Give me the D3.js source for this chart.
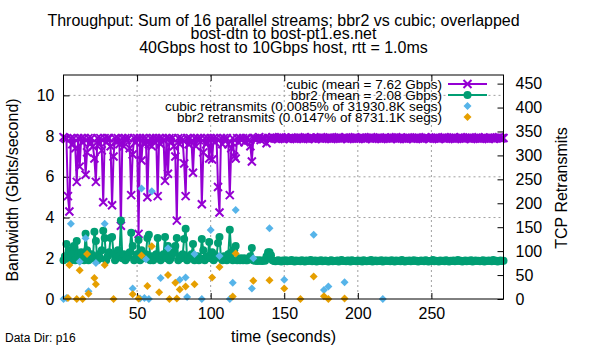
<!DOCTYPE html>
<html>
<head>
<meta charset="utf-8">
<script src="https://cdn.jsdelivr.net/npm/d3@7"></script>
<style>
  body { margin: 0; background: #fff; }
  svg { display: block; font-family: "Liberation Sans", Arial, sans-serif; }
</style>
</head>
<body>
<svg id="chart" width="600" height="350"></svg>
<script>
// throughput per second (Gbps), t = 0..299
const cubic = [
  7.95,7.9,7.85,5.05,4.3,7.9,7.6,7.9,7.4,5.75,7.9,6.5,7.9,7.7,7.9,6.1,7.2,7.9,7.6,7.9,
  7.5,6.9,5.75,7.9,7.6,7.9,7.3,4.75,7.9,7.7,7.9,7.9,7.5,4.6,7.0,7.9,7.7,7.9,7.6,3.6,
  7.9,7.5,7.9,7.8,7.9,7.4,5.1,7.1,7.9,7.7,7.9,3.2,7.9,6.8,7.9,7.6,7.9,5.0,7.6,7.9,
  7.5,7.9,7.7,7.9,5.05,7.9,7.6,7.9,7.8,5.8,7.9,6.15,7.9,7.7,7.9,7.5,7.0,3.85,7.9,7.6,
  7.9,7.8,6.65,5.05,7.9,7.6,7.9,7.7,6.2,7.9,7.5,7.9,7.8,7.9,4.65,7.2,7.9,7.6,7.9,6.9,
  7.9,6.85,7.9,7.7,7.9,5.5,4.25,7.9,7.6,7.9,7.8,7.9,7.6,5.1,7.4,7.9,7.0,6.9,7.9,7.7,
  7.9,7.8,7.9,7.7,7.9,7.9,7.8,7.5,6.75,7.9,7.9,7.85,7.9,7.95,7.8,7.9,7.85,7.9,7.65,7.9,
  7.9,7.85,7.95,7.9,7.88,7.92,7.86,7.9,7.94,7.87,7.9,7.92,7.88,7.9,7.85,7.93,7.9,7.87,7.91,7.9,
  7.88,7.92,7.9,7.86,7.94,7.9,7.87,7.91,7.93,7.88,7.9,7.85,7.92,7.9,7.89,7.94,7.87,7.9,7.91,7.88,
  7.9,7.93,7.86,7.9,7.92,7.88,7.9,7.95,7.87,7.9,7.91,7.89,7.93,7.86,7.9,7.92,7.88,7.9,7.94,7.87,
  7.9,7.91,7.88,7.93,7.9,7.86,7.92,7.9,7.89,7.94,7.87,7.9,7.91,7.88,7.9,7.93,7.86,7.9,7.92,7.88,
  7.91,7.9,7.87,7.93,7.89,7.9,7.94,7.86,7.9,7.92,7.88,7.91,7.9,7.85,7.93,7.9,7.88,7.92,7.87,7.9,
  7.93,7.88,7.9,7.91,7.86,7.9,7.94,7.89,7.9,7.87,7.92,7.9,7.88,7.93,7.9,7.86,7.91,7.9,7.89,7.94,
  7.87,7.9,7.92,7.88,7.9,7.93,7.86,7.9,7.91,7.88,7.94,7.9,7.87,7.92,7.9,7.89,7.93,7.86,7.9,7.91,
  7.88,7.9,7.94,7.87,7.9,7.92,7.88,7.91,7.9,7.86,7.93,7.9,7.88,7.92,7.89,7.9,7.94,7.87,7.9,7.91
];
const bbr2 = [
  1.9,2.1,2.7,2.0,2.4,1.9,2.2,2.6,1.9,2.85,2.2,1.9,2.3,2.0,1.9,3.2,2.4,1.9,2.1,2.2,
  2.0,3.3,2.85,1.9,2.2,2.0,2.4,3.35,3.0,1.9,2.1,2.3,3.0,3.05,2.2,1.9,2.0,2.4,2.1,3.85,
  2.0,2.2,1.9,2.0,2.1,2.3,3.25,2.6,1.9,2.0,2.2,2.9,1.9,2.4,2.0,2.1,2.2,3.0,3.15,1.9,
  2.1,1.9,2.0,2.2,3.0,2.0,1.9,2.1,2.2,3.05,2.0,2.6,1.9,2.0,2.2,2.3,2.6,3.0,1.9,2.1,
  2.0,2.2,2.95,3.45,1.9,2.1,2.0,2.2,2.7,1.9,2.0,2.1,1.9,2.0,2.95,2.4,1.9,2.0,2.1,2.8,
  2.0,2.3,1.9,2.0,2.1,2.75,3.05,2.0,1.9,2.1,2.0,1.9,2.2,3.4,2.3,1.9,2.4,2.6,1.9,2.0,
  1.9,2.0,1.9,2.0,1.9,1.9,2.0,2.1,2.5,1.9,1.88,1.9,1.86,1.9,1.88,1.87,1.9,1.88,2.1,2.3,
  2.3,2.15,1.9,1.87,1.85,1.88,1.9,1.86,1.84,1.89,1.87,1.9,1.85,1.88,1.86,1.91,1.87,1.84,1.89,1.86,
  1.88,1.85,1.9,1.87,1.84,1.89,1.86,1.88,1.92,1.85,1.87,1.89,1.84,1.88,1.86,1.9,1.85,1.87,1.89,1.86,
  1.84,1.88,1.9,1.85,1.87,1.86,1.89,1.84,1.88,1.91,1.86,1.87,1.85,1.89,1.88,1.84,1.9,1.86,1.87,1.85,
  1.89,1.86,1.88,1.84,1.9,1.87,1.85,1.88,1.86,1.92,1.84,1.87,1.89,1.85,1.88,1.86,1.9,1.84,1.87,1.89,
  1.86,1.88,1.85,1.9,1.87,1.84,1.89,1.86,1.88,1.85,1.91,1.87,1.84,1.88,1.86,1.89,1.85,1.87,1.9,1.86,
  1.88,1.84,1.87,1.89,1.86,1.85,1.9,1.88,1.84,1.87,1.86,1.92,1.85,1.88,1.87,1.84,1.89,1.86,1.88,1.85,
  1.9,1.87,1.84,1.88,1.86,1.89,1.85,1.87,1.91,1.86,1.88,1.84,1.87,1.89,1.85,1.88,1.86,1.9,1.84,1.87,
  1.89,1.86,1.88,1.85,1.87,1.9,1.84,1.88,1.86,1.89,1.87,1.85,1.91,1.86,1.88,1.84,1.87,1.89,1.86,1.88
];
// retransmits: [second, count]
const cubicRetrans = [
  [0,0],[2,2],[5,157],[11,78],[15,127],[17,16],[22,75],[28,157],[47,22],[52,1],[53,231],[55,2],
  [56,83],[58,0],[60,225],[66,44],[71,106],[79,40],[83,45],[84,4],[89,94],[94,0],[100,144],[106,90],
  [113,0],[115,34],[117,186],[128,22],[129,85],[140,148],[150,40],[170,134],[177,19],[180,26],[191,35],[217,0]
];
const bbr2Retrans = [
  [3,2],[4,71],[9,0],[11,60],[13,0],[16,94],[17,11],[21,44],[22,31],[28,71],[34,0],[47,10],
  [51,1],[53,91],[57,27],[60,110],[65,14],[71,50],[72,0],[76,34],[77,1],[79,20],[83,26],[89,31],
  [101,45],[106,67],[115,5],[117,95],[129,38],[140,39],[150,22],[161,0],[170,47],[177,6],[180,0],[191,1]
];

const xTicks = [50, 100, 150, 200, 250];
const yTicks = [0, 2, 4, 6, 8, 10];
const y2Ticks = [0, 50, 100, 150, 200, 250, 300, 350, 400, 450];
const titleLines = [
  "Throughput: Sum of 16 parallel streams; bbr2 vs cubic; overlapped",
  "bost-dtn to bost-pt1.es.net",
  "40Gbps host to 10Gbps host, rtt = 1.0ms"
];
const legendLabels = [
  "cubic (mean = 7.62 Gbps)",
  "bbr2 (mean = 2.08 Gbps)",
  "cubic retransmits (0.0085% of 31930.8K segs)",
  "bbr2 retransmits (0.0147% of 8731.1K segs)"
];
const colors = ["#9400d3", "#009e73", "#56b4e9", "#e69f00"];

const plotLeft = 63.5, plotRight = 503.5, plotTop = 75, plotBottom = 299;

const svg = d3.select("#chart");

const x = d3.scaleLinear().domain([0, 299]).range([plotLeft, plotRight]);
const y = d3.scaleLinear().domain([0, 11]).range([plotBottom, plotTop]);
const y2 = d3.scaleLinear().domain([0, 468]).range([plotBottom, plotTop]);

// grid
const grid = svg.append("g")
  .attr("stroke", "#a0a0a0")
  .attr("stroke-width", 1)
  .attr("stroke-dasharray", "2,3");
grid.selectAll(".gx").data(xTicks).join("line")
  .attr("x1", d => x(d)).attr("x2", d => x(d))
  .attr("y1", plotTop).attr("y2", plotBottom);
grid.selectAll(".gy").data(yTicks.filter(d => d > 0)).join("line")
  .attr("x1", plotLeft).attr("x2", plotRight)
  .attr("y1", d => y(d)).attr("y2", d => y(d));

// axes
function styleAxis(g, size) {
  g.select(".domain").remove();
  g.selectAll(".tick line").attr("stroke", "#000");
  g.selectAll(".tick text")
    .attr("fill", "#000")
    .attr("font-size", size)
    .attr("font-family", "Liberation Sans, Arial, sans-serif");
}

svg.append("g")
  .attr("transform", `translate(0,${plotBottom})`)
  .call(d3.axisBottom(x).tickValues(xTicks).tickSizeInner(-6).tickSizeOuter(0).tickPadding(9))
  .call(g => styleAxis(g, 16));

svg.append("g")
  .attr("transform", `translate(0,${plotTop})`)
  .call(d3.axisTop(x).tickValues(xTicks).tickSizeInner(-6).tickSizeOuter(0).tickFormat(""))
  .call(g => styleAxis(g, 16));

svg.append("g")
  .attr("transform", `translate(${plotLeft},0)`)
  .call(d3.axisLeft(y).tickValues(yTicks).tickSizeInner(-6).tickSizeOuter(0).tickPadding(9))
  .call(g => styleAxis(g, 16));

svg.append("g")
  .attr("transform", `translate(${plotRight},0)`)
  .call(d3.axisRight(y2).tickValues(y2Ticks).tickSizeInner(-6).tickSizeOuter(0).tickPadding(12))
  .call(g => styleAxis(g, 16));

// series
const lineGen = d3.line().x((d, i) => x(i)).y(d => y(d));
const crossPath = "M-4,-4L4,4M-4,4L4,-4";
const diamondPath = "M0,-4L4,0L0,4L-4,0Z";

const plot = svg.append("g");

plot.append("path").datum(cubic)
  .attr("d", lineGen)
  .attr("fill", "none").attr("stroke", colors[0]).attr("stroke-width", 2);
plot.append("g").selectAll("path").data(cubic).join("path")
  .attr("transform", (d, i) => `translate(${x(i)},${y(d)})`)
  .attr("d", crossPath)
  .attr("stroke", colors[0]).attr("stroke-width", 2).attr("fill", "none");

plot.append("path").datum(bbr2)
  .attr("d", lineGen)
  .attr("fill", "none").attr("stroke", colors[1]).attr("stroke-width", 2);
plot.append("g").selectAll("circle").data(bbr2).join("circle")
  .attr("cx", (d, i) => x(i)).attr("cy", d => y(d))
  .attr("r", 4).attr("fill", colors[1]);

plot.append("g").selectAll("path").data(cubicRetrans).join("path")
  .attr("transform", d => `translate(${x(d[0])},${y2(d[1])})`)
  .attr("d", diamondPath).attr("fill", colors[2]);

plot.append("g").selectAll("path").data(bbr2Retrans).join("path")
  .attr("transform", d => `translate(${x(d[0])},${y2(d[1])})`)
  .attr("d", diamondPath).attr("fill", colors[3]);

// border
svg.append("rect")
  .attr("x", plotLeft).attr("y", plotTop)
  .attr("width", plotRight - plotLeft).attr("height", plotBottom - plotTop)
  .attr("fill", "none").attr("stroke", "#000").attr("stroke-width", 1);

// legend
const legend = svg.append("g");
legendLabels.forEach((label, i) => {
  const ly = 84 + i * 11;
  legend.append("text")
    .attr("x", 442).attr("y", ly + 4.8)
    .attr("text-anchor", "end")
    .attr("font-size", 13.5)
    .text(label);
  if (i < 2) {
    legend.append("line")
      .attr("x1", 448).attr("x2", 487).attr("y1", ly).attr("y2", ly)
      .attr("stroke", colors[i]).attr("stroke-width", 2);
  }
  if (i === 0) {
    legend.append("path").attr("transform", `translate(467.5,${ly})`)
      .attr("d", crossPath).attr("stroke", colors[0]).attr("stroke-width", 2).attr("fill", "none");
  } else if (i === 1) {
    legend.append("circle").attr("cx", 467.5).attr("cy", ly).attr("r", 4).attr("fill", colors[1]);
  } else {
    legend.append("path").attr("transform", `translate(467.5,${ly})`)
      .attr("d", diamondPath).attr("fill", colors[i]);
  }
});

// title and labels
svg.append("g").selectAll("text").data(titleLines).join("text")
  .attr("x", (plotLeft + plotRight) / 2)
  .attr("y", (d, i) => 25.5 + i * 13.5)
  .attr("text-anchor", "middle")
  .attr("font-size", 16)
  .text(d => d);

svg.append("text")
  .attr("x", (plotLeft + plotRight) / 2).attr("y", 342)
  .attr("text-anchor", "middle").attr("font-size", 16)
  .text("time (seconds)");

svg.append("text")
  .attr("transform", "translate(18,190) rotate(-90)")
  .attr("text-anchor", "middle").attr("font-size", 16)
  .text("Bandwidth (Gbits/second)");

svg.append("text")
  .attr("transform", "translate(567,188) rotate(-90)")
  .attr("text-anchor", "middle").attr("font-size", 16)
  .text("TCP Retransmits");

svg.append("text")
  .attr("x", 5).attr("y", 342)
  .attr("font-size", 12)
  .text("Data Dir: p16");
</script>
</body>
</html>
